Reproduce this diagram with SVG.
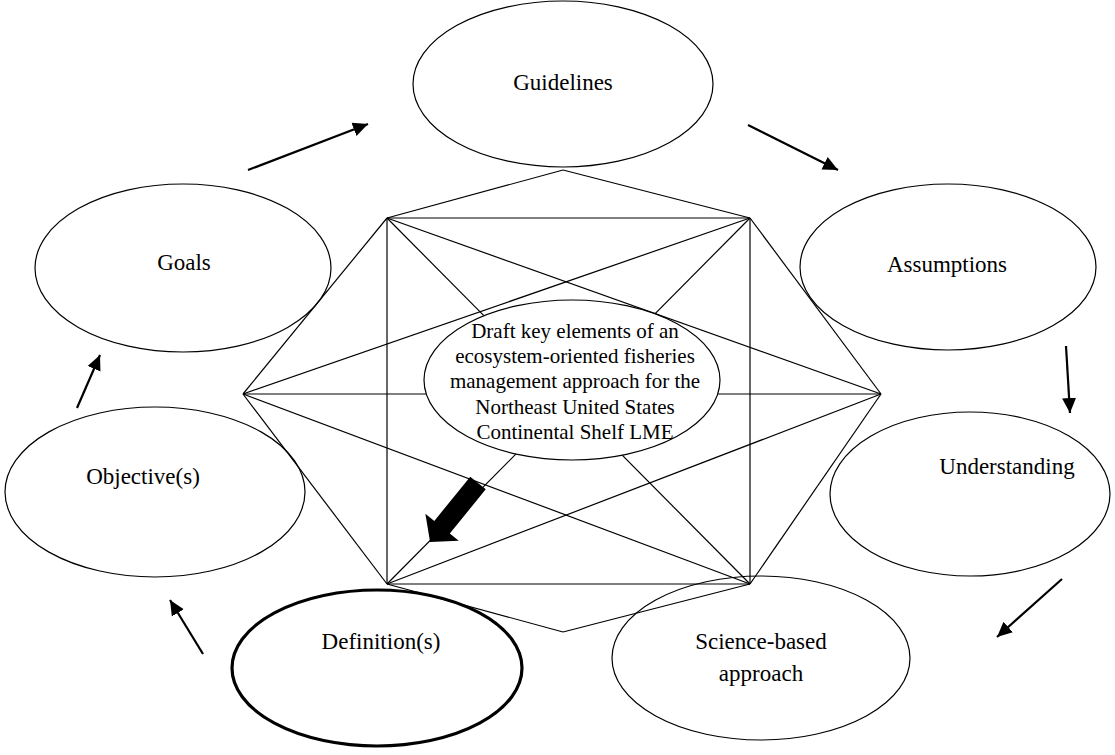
<svg xmlns="http://www.w3.org/2000/svg" width="1115" height="755" viewBox="0 0 1115 755">
  <style>
    .node ellipse { fill: #ffffff; stroke: #000000; stroke-width: 1.2; }
    .node.bold ellipse { stroke-width: 3.2; }
    .node text, .hub text { font-family: "Liberation Serif", "Times New Roman", serif; fill: #000000; text-anchor: middle; }
    .node text { font-size: 23px; }
    .hub text { font-size: 21px; }
    .web line { stroke: #000000; stroke-width: 1.2; }
    .flow line { stroke: #000000; stroke-width: 2.2; marker-end: url(#head); }
  </style>
  <defs>
    <marker id="head" markerUnits="userSpaceOnUse" markerWidth="16" markerHeight="16" viewBox="0 0 16 16" refX="15" refY="8" orient="auto">
      <path d="M0,1 L15,8 L0,15 Z" fill="#000000"/>
    </marker>
  </defs>
  <rect width="1115" height="755" fill="#ffffff"/>

  <!-- outer cycle of elements -->
  <g id="guidelines" class="node">
    <ellipse cx="563" cy="84" rx="150" ry="83"/>
    <text x="563" y="90">Guidelines</text>
  </g>
  <g id="goals" class="node">
    <ellipse cx="183" cy="268" rx="148" ry="84"/>
    <text x="184" y="270">Goals</text>
  </g>
  <g id="assumptions" class="node">
    <ellipse cx="948" cy="267" rx="148" ry="83"/>
    <text x="947" y="272">Assumptions</text>
  </g>
  <g id="understanding" class="node">
    <ellipse cx="970" cy="494" rx="140" ry="82"/>
    <text x="1007" y="474">Understanding</text>
  </g>
  <g id="objectives" class="node">
    <ellipse cx="155" cy="492" rx="150" ry="85"/>
    <text x="143" y="484">Objective(s)</text>
  </g>
  <g id="science" class="node">
    <ellipse cx="761" cy="658" rx="149" ry="82"/>
    <text x="761" y="649">Science-based</text>
    <text x="761" y="681">approach</text>
  </g>
  <g id="definitions" class="node bold">
    <ellipse cx="377" cy="668" rx="145" ry="78"/>
    <text x="381" y="649">Definition(s)</text>
  </g>

  <!-- hexagon, square and cross-links -->
  <g id="web" class="web">
    <line x1="563" y1="170" x2="387" y2="218"/>
    <line x1="563" y1="170" x2="750" y2="218"/>
    <line x1="387" y1="218" x2="243" y2="394"/>
    <line x1="750" y1="218" x2="881" y2="394"/>
    <line x1="243" y1="394" x2="387" y2="584"/>
    <line x1="881" y1="394" x2="750" y2="584"/>
    <line x1="387" y1="584" x2="563" y2="632"/>
    <line x1="750" y1="584" x2="563" y2="632"/>
    <line x1="387" y1="218" x2="750" y2="218"/>
    <line x1="750" y1="218" x2="750" y2="584"/>
    <line x1="750" y1="584" x2="387" y2="584"/>
    <line x1="387" y1="584" x2="387" y2="218"/>
    <line x1="387" y1="218" x2="750" y2="584"/>
    <line x1="750" y1="218" x2="387" y2="584"/>
    <line x1="243" y1="394" x2="881" y2="394"/>
    <line x1="243" y1="394" x2="750" y2="218"/>
    <line x1="243" y1="394" x2="750" y2="584"/>
    <line x1="881" y1="394" x2="387" y2="218"/>
    <line x1="881" y1="394" x2="387" y2="584"/>
  </g>

  <!-- central element -->
  <g id="hub" class="hub">
    <ellipse cx="572" cy="380" rx="148" ry="80" fill="#ffffff" stroke="#000000" stroke-width="1.2"/>
    <text x="575" y="338">Draft key elements of an</text>
    <text x="575" y="363">ecosystem-oriented fisheries</text>
    <text x="575" y="388">management approach for the</text>
    <text x="575" y="414">Northeast United States</text>
    <text x="575" y="439">Continental Shelf LME</text>
  </g>

  <!-- cycle connectors -->
  <g id="connectors" class="flow">
    <line x1="248" y1="170" x2="368" y2="124"/>
    <line x1="748" y1="125" x2="838" y2="170"/>
    <line x1="1066" y1="346" x2="1070" y2="413"/>
    <line x1="1062" y1="579" x2="997" y2="637"/>
    <line x1="203" y1="654" x2="170" y2="600"/>
    <line x1="77" y1="408" x2="100" y2="355"/>
    <polygon id="focus-arrow" points="0,-10 57,-10 57,-21.5 76,0 57,21.5 57,10 0,10" transform="translate(478,483) rotate(129.1)" fill="#000000"/>
  </g>
</svg>
